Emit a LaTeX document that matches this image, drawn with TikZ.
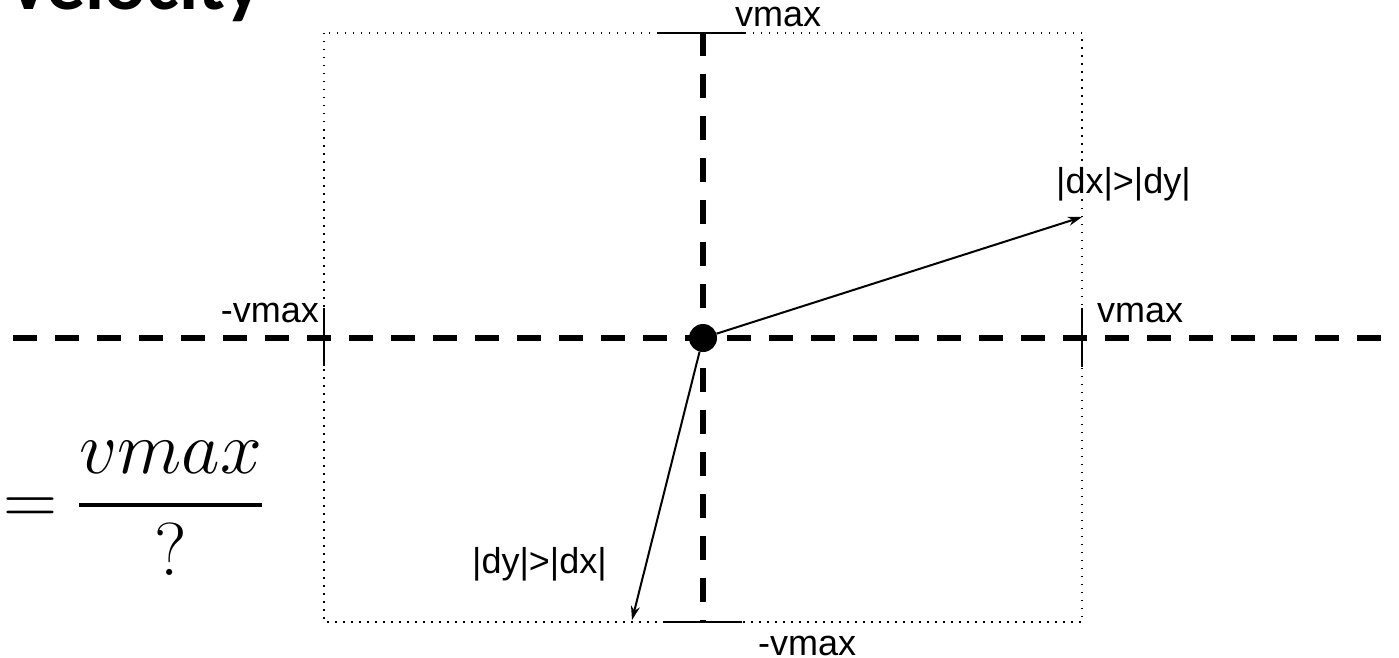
\RequirePackage{fix-cm}
\documentclass[tikz,border=0pt]{standalone}
\usepackage{amsmath}
\usepackage[no-math]{fontspec}
\setmainfont{Liberation Sans}
\newfontfamily\titlefont{Carlito}
\usepackage{tikz}
\usetikzlibrary{arrows.meta}

\tikzset{
  axis/.style={line width=6pt, dash pattern=on 24pt off 18pt},
  frame/.style={line width=1.5pt, dash pattern=on 1.5pt off 6.5pt},
  tick/.style={line width=2pt},
  lbl/.style={inner sep=0pt, font=\fontsize{36}{44}\selectfont},
  vec/.style={line width=2pt, -{Stealth[length=14pt,width=9pt]}}
}

\begin{document}
\begin{tikzpicture}[x=1pt,y=-1pt]
\useasboundingbox (0,0) rectangle (1399,658);
\clip (0,0) rectangle (1399,658);

\node[anchor=base west, inner sep=0pt, font=\fontsize{78}{90}\titlefont\bfseries] (title) at (10,10) {velocity};
\node[anchor=base west, inner sep=0pt, font=\fontsize{75}{90}\selectfont] (ratio) at (3,524) {$=\genfrac{}{}{4pt}{0}{vmax}{?}$};

\coordinate (xl) at (13,338);
\coordinate (xr) at (1420,338);
\coordinate (yt) at (703,32);
\coordinate (yb) at (703,622);
\draw[axis] (xl) -- (xr);
\draw[axis] (yt) -- (yb);

\draw[frame] (324,33) rectangle (1082,622);
\draw[tick] (657,33) -- (745,33);
\draw[tick] (663,622) -- (742,622);
\draw[tick] (324,308) -- (324,366);
\draw[tick] (1082,308) -- (1082,367);

\node[circle, fill, inner sep=0pt, minimum size=28pt] (origin) at (703,338) {};
\coordinate (dxtip) at (1082,217);
\coordinate (dytip) at (632,620);
\draw[vec] (origin) -- (dxtip);
\draw[vec] (origin) -- (dytip);

\node[lbl, anchor=base west] (vtop) at (735,27) {vmax};
\node[lbl, anchor=base west] (vbot) at (758,655) {-vmax};
\node[lbl, anchor=base east] (vleft) at (319,322) {-vmax};
\node[lbl, anchor=base west] (vright) at (1097,322) {vmax};
\node[lbl, anchor=base west] (dxlbl) at (1056,193) {|dx|>|dy|};
\node[lbl, anchor=base west] (dylbl) at (472,573) {|dy|>|dx|};
\end{tikzpicture}
\end{document}
